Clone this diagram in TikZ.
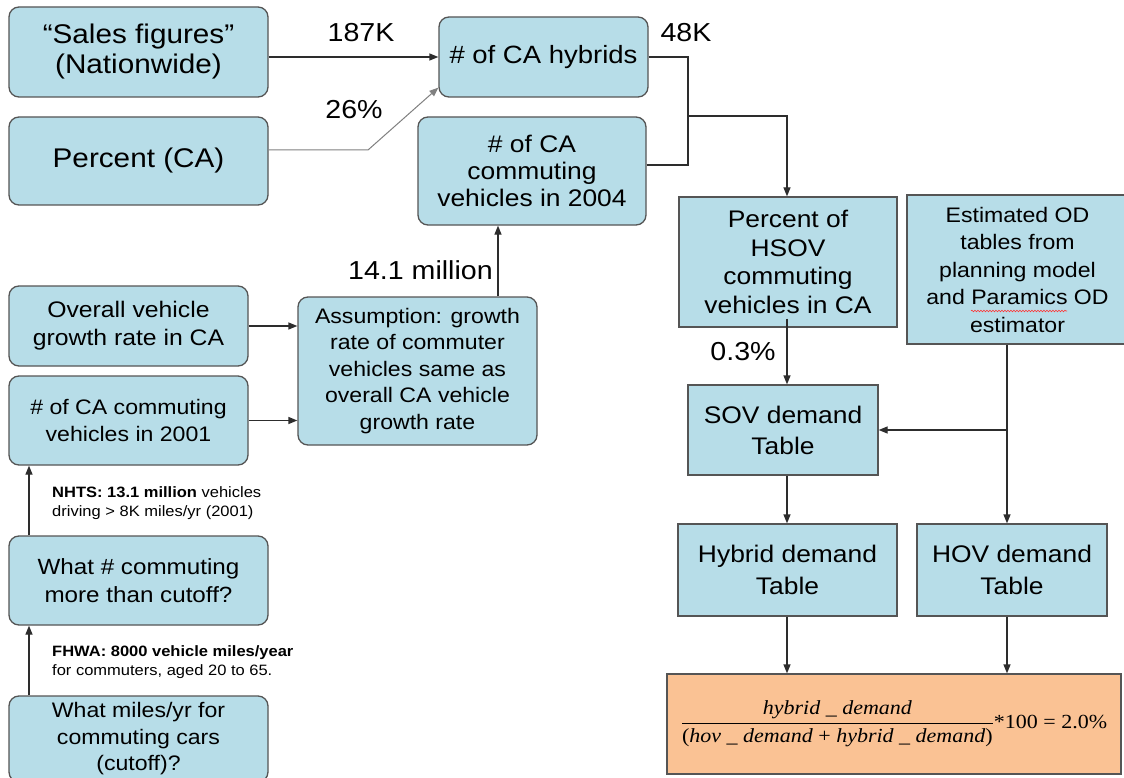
\documentclass[tikz,border=0pt]{standalone}
\usepackage{fontspec}
\setmainfont{Liberation Sans}[FakeStretch=1.1]
\newfontfamily\serifmath{Liberation Serif}[FakeStretch=1.1]
\usetikzlibrary{arrows.meta,decorations.pathmorphing}
\definecolor{boxblue}{RGB}{183,221,232}
\definecolor{boxline}{RGB}{85,85,85}
\definecolor{orangefill}{RGB}{250,194,148}
\definecolor{arrowcol}{RGB}{45,45,45}
\newcommand{\fsz}[2]{\fontsize{#1}{#2}\selectfont}
\begin{document}
\begin{tikzpicture}[x=1pt,y=-1pt,
  box/.style={draw=boxline, fill=boxblue, line width=1.3pt, align=center, inner sep=0pt, text=black},
  rbox/.style={box, rounded corners=10pt},
  conn/.style={draw=arrowcol, line width=1.3pt},
  arr/.style={conn, -{Triangle[length=9pt,width=7pt]}},
  lbl/.style={font=\fsz{26}{30}, inner sep=0pt},
  note/.style={font=\fsz{15}{19.5}, align=left, anchor=west, inner sep=0pt}]
\useasboundingbox (0,0) rectangle (1124,778);
\fill[white] (0,0) rectangle (1124,778);

% boxes
\node[rbox, minimum width=259pt, minimum height=90pt, font=\fsz{27}{30}] (sales) at (138.5,52) {“Sales figures”\\(Nationwide)};
\node[rbox, minimum width=259pt, minimum height=88pt, font=\fsz{27}{30}] (pct) at (138.5,161) {Percent (CA)};
\node[rbox, minimum width=209pt, minimum height=80pt, font=\fsz{25}{29}] (hyb) at (543.5,57) {\# of CA hybrids};
\node[rbox, minimum width=228pt, minimum height=108pt, font=\fsz{24}{27}] (c04) at (532,171) {\# of CA\\commuting\\vehicles in 2004};
\node[box, minimum width=218pt, minimum height=130pt, font=\fsz{24}{28.5}] (hsov) at (788,262) {Percent of\\HSOV\\commuting\\vehicles in CA};
\node[box, minimum width=221pt, minimum height=149pt, font=\fsz{21}{27.5}] (od) at (1017.5,269.5) {Estimated OD\\tables from\\planning model\\and Paramics OD\\estimator};
\node[rbox, minimum width=239pt, minimum height=80pt, font=\fsz{22.5}{28}] (ovr) at (128.5,326) {Overall vehicle\\growth rate in CA};
\node[rbox, minimum width=239pt, minimum height=89pt, font=\fsz{21}{27}] (c01) at (128.5,420.5) {\# of CA commuting\\vehicles in 2001};
\node[rbox, minimum width=239pt, minimum height=148pt, font=\fsz{21}{26.5}] (asm) at (417.5,371) {Assumption: growth\\rate of commuter\\vehicles same as\\overall CA vehicle\\growth rate};
\node[box, minimum width=190pt, minimum height=90pt, font=\fsz{24}{31}] (sov) at (783,430) {SOV demand\\Table};
\node[box, minimum width=219pt, minimum height=92pt, font=\fsz{24}{32}] (hd) at (787.5,570) {Hybrid demand\\Table};
\node[box, minimum width=190pt, minimum height=92pt, font=\fsz{24}{32}] (hov) at (1012,570) {HOV demand\\Table};
\node[box, fill=orangefill, minimum width=454pt, minimum height=100pt] (res) at (894,724)
  {\serifmath\fsz{20}{24}$\displaystyle\frac{\hbox{\itshape hybrid \_ demand}}{\hbox{(\itshape hov \_ demand \upshape+ \itshape hybrid \_ demand\upshape)}}$*100 = 2.0\%};
\node[rbox, minimum width=259pt, minimum height=89pt, font=\fsz{22}{28}] (wn) at (138.5,580.5) {What \# commuting\\more than cutoff?};
\node[rbox, minimum width=259pt, minimum height=86pt, font=\fsz{21}{26.5}] (wm) at (138.5,739) {What miles/yr for\\commuting cars\\(cutoff)?};

% spell-check underline
\draw[red!80, line width=0.6pt, decorate, decoration={snake, amplitude=0.8pt, segment length=3pt}] (971,311) -- (1067,311);

% labels
\node[lbl] (l187) at (361,33) {187K};
\node[lbl] (l48) at (686,33) {48K};
\node[lbl] (l26) at (354,110) {26\%};
\node[lbl, anchor=east] (l141) at (493,270) {14.1 million};
\node[lbl] (l03) at (743,352) {0.3\%};
\node[note] (nhts) at (52,503) {\textbf{NHTS:} \textbf{13.1 million} vehicles\\driving > 8K miles/yr (2001)};
\node[note] (fhwa) at (52,662) {\textbf{FHWA: 8000 vehicle miles/year}\\for commuters, aged 20 to 65.};

% helper coordinates
\coordinate (xa) at (498,0);
\coordinate (xl) at (29,0);
\coordinate (xh) at (787,0);
\coordinate (xo) at (1007,0);
\coordinate (brk) at (688,116);
\coordinate (pbend) at (368,150);

% connectors
\draw[arr] (sales.east |- hyb.west) -- (hyb.west);
\draw[draw=gray, line width=1pt, -{Triangle[length=9pt,width=7pt]}] (pct.east |- pbend) -- (pbend) -- ([yshift=10pt]hyb.south west);
\draw[conn] (hyb.east) -| (brk);
\draw[conn] ([yshift=6pt]c04.east) -| (brk);
\draw[arr] (brk) -| (hsov.north -| xh);
\draw[arr] (asm.north -| xa) -- (c04.south -| xa);
\draw[arr] (ovr.east) -- (ovr.east -| asm.west);
\draw[arr] (c01.east) -- (c01.east -| asm.west);
\draw[arr] (wm.north -| xl) -- (wn.south -| xl);
\draw[arr] (wn.north -| xl) -- (c01.south -| xl);
\draw[arr] ([yshift=9pt]hsov.south -| xh) -- (sov.north -| xh);
\draw[arr] (sov.south -| xh) -- (hd.north -| xh);
\draw[arr] (hd.south -| xh) -- (res.north -| xh);
\draw[arr] (od.south -| xo) -- (hov.north -| xo);
\draw[arr] (sov.east -| xo) -- (sov.east);
\draw[arr] (hov.south -| xo) -- (res.north -| xo);
\end{tikzpicture}
\end{document}
